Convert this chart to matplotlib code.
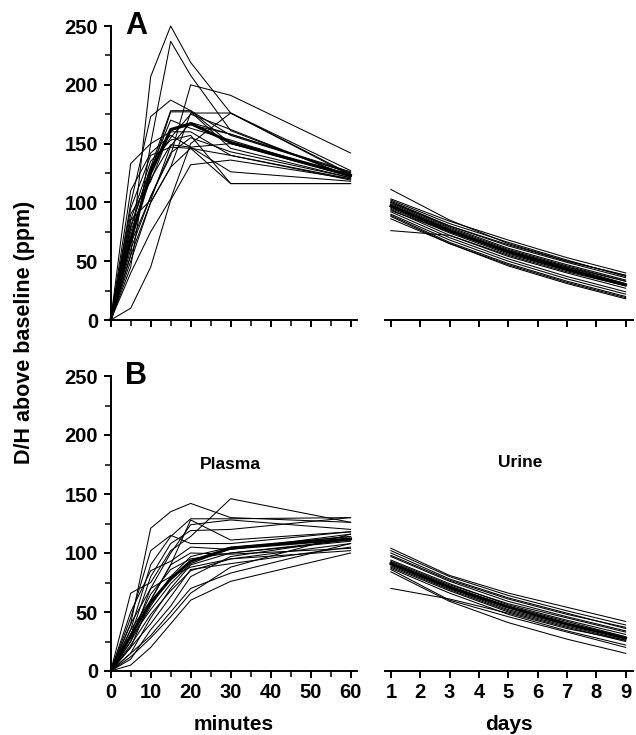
import matplotlib
matplotlib.use("Agg")
import matplotlib.pyplot as plt
from matplotlib.ticker import MultipleLocator

plt.rcParams['font.family'] = ['Liberation Sans', 'DejaVu Sans']
plt.rcParams['font.weight'] = 'bold'

# ---------------- data ----------------
plasma_minutes = [0, 5, 10, 15, 20, 30, 60]
urine_days = [1, 3, 5, 7, 9]

plasma_A = [
    [0, 55, 207, 250, 219, 176, 127],
    [0, 45, 150, 237, 208, 161, 122],
    [0, 133, 150, 160, 160, 140, 120],
    [0, 99, 173, 187, 178, 157, 125],
    [0, 80, 130, 178, 178, 150, 122],
    [0, 70, 125, 177, 177, 146, 121],
    [0, 60, 105, 140, 200, 191, 142],
    [0, 50, 100, 130, 176, 176, 124],
    [0, 40, 75, 103, 150, 176, 123],
    [0, 10, 45, 102, 132, 136, 120],
    [0, 75, 120, 149, 147, 126, 118],
    [0, 85, 135, 153, 157, 116, 116],
    [0, 95, 140, 147, 146, 116, 116],
    [0, 65, 105, 142, 155, 143, 121],
    [0, 90, 118, 161, 166, 158, 126],
    [0, 55, 100, 130, 146, 140, 119],
    [0, 110, 142, 157, 147, 150, 124],
    [0, 70, 128, 170, 163, 153, 122],
    [0, 85, 102, 148, 168, 158, 125],
    [0, 78, 130, 155, 175, 162, 122],
]
plasma_A_mean = [0, 68, 125, 162, 167, 151, 123]

urine_A = [
    [111, 85, 65, 50, 38],
    [103, 84, 68, 53, 40],
    [102, 82, 66, 51, 37],
    [101, 80, 63, 49, 36],
    [100, 79, 61, 47, 34],
    [99, 78, 60, 46, 33],
    [98, 77, 59, 45, 31],
    [97, 76, 58, 44, 30],
    [96, 75, 57, 43, 30],
    [95, 74, 56, 42, 29],
    [94, 72, 54, 40, 27],
    [92, 70, 52, 37, 24],
    [90, 68, 50, 35, 22],
    [89, 66, 48, 33, 20],
    [88, 65, 46, 31, 18],
    [86, 65, 47, 32, 19],
    [76, 72, 55, 41, 29],
    [100, 80, 64, 50, 38],
    [93, 75, 59, 45, 33],
]
urine_A_mean = [97, 76, 58, 43, 30]

plasma_B = [
    [0, 40, 121, 135, 142, 130, 126],
    [0, 66, 75, 102, 114, 146, 126],
    [0, 35, 90, 114, 129, 129, 130],
    [0, 25, 70, 100, 124, 128, 120],
    [0, 30, 80, 108, 119, 120, 130],
    [0, 20, 60, 90, 128, 111, 118],
    [0, 45, 102, 115, 108, 108, 118],
    [0, 25, 55, 80, 97, 105, 114],
    [0, 15, 45, 70, 90, 100, 111],
    [0, 10, 35, 55, 80, 97, 112],
    [0, 20, 40, 63, 86, 91, 105],
    [0, 5, 20, 40, 60, 76, 100],
    [0, 15, 30, 50, 70, 83, 108],
    [0, 30, 65, 86, 95, 100, 110],
    [0, 40, 70, 80, 88, 95, 102],
    [0, 35, 60, 90, 100, 99, 104],
    [0, 28, 52, 74, 91, 104, 114],
    [0, 22, 48, 68, 85, 95, 108],
    [0, 12, 28, 46, 66, 88, 116],
    [0, 50, 85, 93, 105, 103, 116],
]
plasma_B_mean = [0, 30, 58, 78, 93, 104, 112]

urine_B = [
    [104, 81, 66, 54, 42],
    [102, 80, 64, 51, 39],
    [100, 78, 62, 49, 36],
    [97, 76, 59, 46, 34],
    [94, 74, 56, 43, 31],
    [92, 72, 55, 42, 29],
    [91, 71, 54, 40, 28],
    [90, 70, 52, 39, 27],
    [89, 69, 51, 38, 26],
    [88, 68, 50, 37, 25],
    [87, 66, 48, 34, 22],
    [86, 60, 46, 33, 20],
    [84, 59, 41, 27, 15],
    [70, 61, 49, 36, 26],
    [93, 73, 57, 45, 33],
    [98, 77, 61, 48, 37],
]
urine_B_mean = [91, 71, 54, 40, 28]

panel_labels = ["A", "B"]
y_label = "D/H above baseline (ppm)"

# ---------------- figure ----------------
W, H = 636, 735
fig = plt.figure(figsize=(W / 100, H / 100), dpi=100)

def rect(x0, x1, ytop, ybot):
    return [x0 / W, 1 - ybot / H, (x1 - x0) / W, (ybot - ytop) / H]

ax_pA = fig.add_axes(rect(110.7, 357, 26, 320))
ax_uA = fig.add_axes(rect(385, 633, 26, 320))
ax_pB = fig.add_axes(rect(110.7, 357, 376, 671))
ax_uB = fig.add_axes(rect(385, 633, 376, 671))

thin = dict(color='black', lw=0.75)
thick = dict(color='black', lw=2.1)

for ax, lines, mean in [(ax_pA, plasma_A, plasma_A_mean), (ax_pB, plasma_B, plasma_B_mean)]:
    for ys in lines:
        ax.plot(plasma_minutes, ys, **thin, clip_on=False)
    ax.plot(plasma_minutes, mean, **thick, clip_on=False)
    ax.set_xlim(0, 61.6)
    ax.set_ylim(0, 250)
    ax.spines['top'].set_visible(False)
    ax.spines['right'].set_visible(False)
    ax.spines['left'].set_linewidth(1.4)
    ax.spines['bottom'].set_linewidth(1.4)
    ax.xaxis.set_major_locator(MultipleLocator(10))
    ax.xaxis.set_minor_locator(MultipleLocator(5))
    ax.yaxis.set_major_locator(MultipleLocator(50))
    ax.yaxis.set_minor_locator(MultipleLocator(25))
    ax.tick_params(which='major', length=5, width=1.4, labelsize=14.5, pad=4)
    ax.tick_params(which='minor', length=4, width=1.1)

for ax, lines, mean in [(ax_uA, urine_A, urine_A_mean), (ax_uB, urine_B, urine_B_mean)]:
    for ys in lines:
        ax.plot(urine_days, ys, **thin, clip_on=False)
    ax.plot(urine_days, mean, **thick, clip_on=False)
    ax.set_xlim(0.8, 9.25)
    ax.set_ylim(0, 250)
    for s in ['top', 'right', 'left']:
        ax.spines[s].set_visible(False)
    ax.spines['bottom'].set_linewidth(1.4)
    ax.set_yticks([])
    ax.set_xticks(range(1, 10))
    ax.tick_params(which='major', length=5, width=1.4, labelsize=14.5, pad=4)

for ax in (ax_pA, ax_uA):
    ax.tick_params(labelbottom=False)

for ax in (ax_pA, ax_pB, ax_uB):
    for lab in ax.get_xticklabels() + ax.get_yticklabels():
        lab.set_fontweight('bold')

ax_pA.text(0.06, 1.05, panel_labels[0], transform=ax_pA.transAxes,
           fontsize=22, fontweight='bold', va='top', ha='left')
ax_pB.text(0.06, 1.05, panel_labels[1], transform=ax_pB.transAxes,
           fontsize=22, fontweight='bold', va='top', ha='left')

ax_pB.text(30, 175, "Plasma", fontsize=12.5, fontweight='bold', ha='center', va='center')
ax_uB.text(5.4, 177, "Urine", fontsize=12.5, fontweight='bold', ha='center', va='center')

ax_pB.set_xlabel("minutes", fontsize=15, fontweight='bold', labelpad=9)
ax_uB.set_xlabel("days", fontsize=15, fontweight='bold', labelpad=9)

fig.text(25 / W, 1 - 332 / H, y_label, rotation=90, fontsize=15.5,
         fontweight='bold', ha='center', va='center')

fig.savefig("out.png", dpi=100)
